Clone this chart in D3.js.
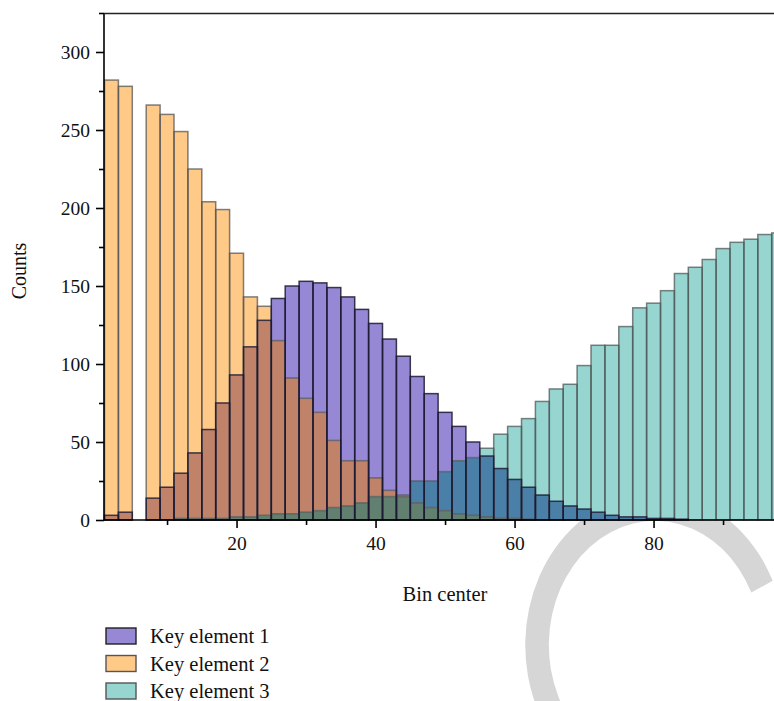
<!doctype html>
<html lang="en">
<head>
<meta charset="UTF-8">
<title>Histogram</title>
<script src="https://cdn.jsdelivr.net/npm/d3@7"></script>
<style>
	body { margin: 0; background: #fff; }
	text { font-family: "Liberation Serif", "DejaVu Serif", serif; fill: #111; }
</style>
</head>
<body>
<div id="container"></div>
<script>
	var width = 774, height = 701;

	// bin centres and counts
	var binCenters = [2, 4, 6, 8, 10, 12, 14, 16, 18, 20, 22, 24, 26, 28, 30, 32, 34, 36, 38, 40,
		42, 44, 46, 48, 50, 52, 54, 56, 58, 60, 62, 64, 66, 68, 70, 72, 74, 76, 78, 80,
		82, 84, 86, 88, 90, 92, 94, 96, 98];
	var keyElement1 = [3, 5, 0, 14, 21, 30, 43, 58, 75, 93, 111, 128, 142, 150, 153, 152, 149, 143, 135, 126,
		116, 105, 92, 81, 69, 60, 50, 41, 33, 26, 21, 16, 12, 9, 7, 5, 3, 2, 2, 1,
		1, 0.5, 0, 0, 0, 0, 0, 0, 0];
	var keyElement2 = [282, 278, 0, 266, 260, 249, 225, 204, 199, 171, 143, 137, 115, 91, 78, 69, 51, 38, 38, 27,
		19, 16, 11, 8, 6, 4, 3, 2, 1, 1, 0.5, 0, 0, 0, 0, 0, 0, 0, 0, 0,
		0, 0, 0, 0, 0, 0, 0, 0, 0];
	var keyElement3 = [0, 0, 0, 0, 0, 1, 1, 1, 1, 2, 2, 3, 4, 4, 5, 6, 8, 9, 11, 15,
		15, 15, 25, 25, 31, 38, 40, 46, 55, 60, 65, 76, 84, 87, 99, 112, 112, 124, 136, 139,
		147, 158, 162, 167, 174, 178, 180, 183, 184];
	var seriesNames = ["Key element 1", "Key element 2", "Key element 3"];
	var xTicks = [20, 40, 60, 80];
	var yTicks = [0, 50, 100, 150, 200, 250, 300];
	var binWidth = 2;

	var series = [keyElement1, keyElement2, keyElement3];
	var fills = ["#9688d5", "#ffc987", "#97d5d0"];
	var edges = ["#1c1a33", "#555", "#4d5958"];
	// colour where bars of several series lie over each other
	var mixFill = {
		"0": "#9688d5", "1": "#ffc987", "2": "#97d5d0",
		"01": "#c1826a", "02": "#4a7fa8", "12": "#8fa67c", "012": "#62806f"
	};

	var x = d3.scaleLinear().domain([1, 99]).range([104.5, 104.5 + 98 * 6.95]);
	var y = d3.scaleLinear().domain([0, 325]).range([520, 13]);

	var svg = d3.select("#container").append("svg")
		.attr("width", width)
		.attr("height", height);

	// faint "C" watermark, mostly hidden behind the plot
	svg.append("path")
		.attr("transform", "translate(655,645) scale(118,138)")
		.attr("d", d3.arc()({innerRadius: 0.9, outerRadius: 1.1, startAngle: -140 * Math.PI / 180, endAngle: 65 * Math.PI / 180}))
		.attr("fill", "#d6d6d6");

	svg.append("rect")
		.attr("x", x(1)).attr("y", y(325))
		.attr("width", width - x(1)).attr("height", y(0) - y(325))
		.attr("fill", "#fff");

	var g = svg.append("g");

	// split every bin into layers, coloured by which series cover it
	binCenters.forEach(function (c, i) {
		var vals = series.map(function (s) { return s[i]; });
		var levels = Array.from(new Set(vals.filter(function (v) { return v > 0; }))).sort(d3.ascending);
		var lo = 0;
		levels.forEach(function (hi) {
			var key = vals.map(function (v, k) { return v >= hi ? k : ""; }).join("");
			g.append("rect")
				.attr("x", x(c - binWidth / 2))
				.attr("y", y(hi))
				.attr("width", x(c + binWidth / 2) - x(c - binWidth / 2))
				.attr("height", y(lo) - y(hi))
				.attr("fill", mixFill[key]);
			lo = hi;
		});
	});

	// outlines of each series
	[2, 1, 0].forEach(function (k) {
		g.append("g").selectAll("rect")
			.data(binCenters.map(function (c, i) { return {c: c, v: series[k][i]}; })
				.filter(function (d) { return d.v > 0; }))
			.join("rect")
			.attr("x", function (d) { return x(d.c - binWidth / 2); })
			.attr("y", function (d) { return y(d.v); })
			.attr("width", function (d) { return x(d.c + binWidth / 2) - x(d.c - binWidth / 2); })
			.attr("height", function (d) { return y(0) - y(d.v); })
			.attr("fill", "none")
			.attr("stroke", edges[k])
			.attr("stroke-opacity", k === 0 ? 0.85 : 0.75)
			.attr("stroke-width", 1.5);
	});

	// axes
	var xAxis = d3.axisBottom(x).tickValues(xTicks).tickSize(8).tickPadding(8).tickFormat(d3.format("d"));
	var xMinor = d3.axisBottom(x).tickValues([10, 30, 50, 70, 90]).tickSize(5).tickFormat("");
	var yAxis = d3.axisLeft(y).tickValues(yTicks).tickSize(8).tickPadding(6);
	var yMinor = d3.axisLeft(y).tickValues([25, 75, 125, 175, 225, 275, 325]).tickSize(5).tickFormat("");

	function style(sel) {
		sel.select(".domain").remove();
		sel.selectAll("line").attr("stroke", "#000").attr("stroke-width", 1.6);
		sel.selectAll("text").style("font-size", "19.5px").attr("fill", "#111");
	}
	svg.append("g").attr("transform", "translate(0,520)").call(xAxis).call(style);
	svg.append("g").attr("transform", "translate(0,520)").call(xMinor).call(style);
	svg.append("g").attr("transform", "translate(104,0)").call(yAxis).call(style);
	svg.append("g").attr("transform", "translate(104,0)").call(yMinor).call(style);

	svg.append("line").attr("x1", 104).attr("x2", width).attr("y1", 520).attr("y2", 520)
		.attr("stroke", "#000").attr("stroke-width", 1.6);
	svg.append("line").attr("x1", 104).attr("x2", 104).attr("y1", 13).attr("y2", 520.8)
		.attr("stroke", "#000").attr("stroke-width", 1.6);
	svg.append("line").attr("x1", 104).attr("x2", width).attr("y1", 13.5).attr("y2", 13.5)
		.attr("stroke", "#222").attr("stroke-width", 1.3);

	svg.append("text")
		.attr("transform", "translate(26,271) rotate(-90)")
		.attr("text-anchor", "middle")
		.style("font-size", "20px")
		.text("Counts");
	svg.append("text")
		.attr("x", 445).attr("y", 601)
		.attr("text-anchor", "middle")
		.style("font-size", "20.5px")
		.text("Bin center");

	// legend
	var legend = svg.append("g").attr("transform", "translate(106,628)");
	seriesNames.forEach(function (name, k) {
		var row = legend.append("g").attr("transform", "translate(0," + (k * 27.5) + ")");
		row.append("rect")
			.attr("width", 30).attr("height", 16)
			.attr("fill", fills[k])
			.attr("stroke", k === 0 ? "#222" : "#555")
			.attr("stroke-width", 1.4);
		row.append("text")
			.attr("x", 44).attr("y", 15)
			.style("font-size", "20.5px")
			.text(name);
	});
</script>
</body>
</html>
